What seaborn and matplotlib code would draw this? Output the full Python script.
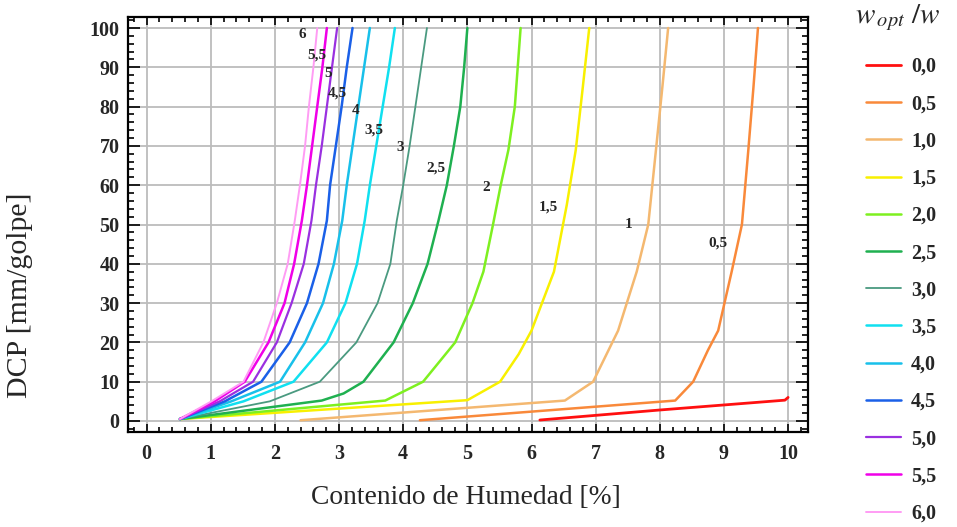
import matplotlib
matplotlib.use('Agg')
import matplotlib.pyplot as plt
import seaborn as sns
from matplotlib.ticker import MultipleLocator

# w_opt / w values and colours
ratios = ['0,0', '0,5', '1,0', '1,5', '2,0', '2,5', '3,0', '3,5', '4,0', '4,5', '5,0', '5,5', '6,0']
colors = ['#ff1010', '#f9893a', '#f4b870', '#f8f000', '#7ef020', '#1fb050', '#4a9a80',
          '#10e0f0', '#18c0ea', '#1a60e8', '#9a30e0', '#f000e8', '#ff9cf4']

# humedad [%] / DCP [mm/golpe]
hum_00 = [6.13, 8.0, 9.95, 10.0]
dcp_00 = [0.25, 2.8, 5.3, 6.0]
hum_05 = [4.26, 8.24, 8.52, 8.75, 8.91, 9.12, 9.28, 9.38, 9.46, 9.53]
dcp_05 = [0.2, 5.2, 10, 18, 23, 38, 50, 69, 85, 100]
hum_10 = [2.40, 6.52, 6.96, 7.35, 7.64, 7.82, 7.94, 8.04, 8.13]
dcp_10 = [0.2, 5.2, 10, 23, 38, 50, 69, 85, 100]
hum_15 = [0.52, 5.00, 5.51, 5.80, 6.00, 6.35, 6.55, 6.69, 6.80, 6.90]
dcp_15 = [0.5, 5.3, 10, 17, 23, 38, 55, 69, 85, 100]
hum_20 = [0.52, 3.72, 4.31, 4.81, 5.08, 5.25, 5.40, 5.52, 5.64, 5.74, 5.83]
dcp_20 = [0.5, 5.2, 10, 20, 30, 38, 50, 60, 69, 80, 100]
hum_25 = [0.52, 2.73, 3.07, 3.38, 3.85, 4.15, 4.38, 4.55, 4.68, 4.79, 4.89, 4.95, 5.00]
dcp_25 = [0.5, 5.2, 7, 10, 20, 30, 40, 51, 60, 70, 80, 90, 100]
dcp_fan = [0.5, 5, 10, 20, 30, 40, 51, 60, 70, 80, 90, 100]
hum_30 = [0.52, 1.92, 2.70, 3.27, 3.60, 3.80, 3.90, 4.00, 4.10, 4.19, 4.28, 4.37]
hum_35 = [0.52, 1.51, 2.29, 2.81, 3.10, 3.28, 3.40, 3.48, 3.58, 3.68, 3.78, 3.87]
hum_40 = [0.52, 1.32, 2.08, 2.47, 2.75, 2.92, 3.05, 3.12, 3.21, 3.30, 3.39, 3.48]
hum_45 = [0.52, 1.22, 1.79, 2.23, 2.50, 2.68, 2.81, 2.86, 2.95, 3.04, 3.12, 3.21]
hum_50 = [0.52, 1.14, 1.66, 2.03, 2.26, 2.45, 2.57, 2.64, 2.73, 2.81, 2.89, 2.97]
hum_55 = [0.52, 1.06, 1.53, 1.90, 2.15, 2.30, 2.42, 2.50, 2.58, 2.66, 2.74, 2.81]
hum_60 = [0.52, 1.01, 1.51, 1.82, 2.03, 2.20, 2.31, 2.39, 2.47, 2.53, 2.60, 2.66]

# labels written next to the curves
lab_text = ['6', '5,5', '5', '4,5', '4', '3,5', '3', '2,5', '2', '1,5', '1', '0,5']
lab_x = [2.43, 2.65, 2.83, 2.98, 3.26, 3.54, 3.95, 4.51, 5.29, 6.26, 7.52, 8.91]
lab_y = [98.3, 93.1, 88.5, 83.5, 79.1, 74.0, 69.5, 64.4, 59.5, 54.5, 49.9, 45.3]

curves = [(hum_00, dcp_00), (hum_05, dcp_05), (hum_10, dcp_10), (hum_15, dcp_15),
          (hum_20, dcp_20), (hum_25, dcp_25), (hum_30, dcp_fan), (hum_35, dcp_fan),
          (hum_40, dcp_fan), (hum_45, dcp_fan), (hum_50, dcp_fan), (hum_55, dcp_fan),
          (hum_60, dcp_fan)]
widths = [2.0, 1.8, 1.8, 1.8, 1.8, 1.8, 1.3, 1.8, 1.8, 1.8, 1.6, 1.8, 1.4]

sns.set_style('ticks')
plt.rcParams['font.family'] = ['Liberation Serif', 'DejaVu Serif']
plt.rcParams['mathtext.fontset'] = 'stix'

fig = plt.figure(figsize=(9.57, 5.27), dpi=100)
ax = fig.add_axes([128/957, 1-432/527, 680/957, 415/527])

for (h, d), c, lw in zip(curves, colors, widths):
    sns.lineplot(x=h, y=d, ax=ax, color=c, lw=lw, sort=False, estimator=None)

for t, x, y in zip(lab_text, lab_x, lab_y):
    ax.text(x, y, t, fontsize=11, fontweight='bold', ha='center', va='center')

ax.set_xlim(-0.29, 10.31)
ax.set_ylim(-2.8, 102.8)
ax.xaxis.set_major_locator(MultipleLocator(1))
ax.xaxis.set_minor_locator(MultipleLocator(0.2))
ax.yaxis.set_major_locator(MultipleLocator(10))
ax.yaxis.set_minor_locator(MultipleLocator(2))
ax.grid(True, which='major', color='#bcbcbc', lw=1.3)
ax.set_axisbelow(True)
for s in ax.spines.values():
    s.set_linewidth(1.6)
    s.set_color('black')
ax.tick_params(which='both', direction='in', top=True, right=True, width=1.2, color='black')
ax.tick_params(axis='x', which='major', length=6, pad=8.5)
ax.tick_params(axis='x', which='minor', length=3.3)
ax.tick_params(axis='y', which='major', length=8.5, pad=6)
ax.tick_params(axis='y', which='minor', length=4.3)
for lab in ax.get_xticklabels() + ax.get_yticklabels():
    lab.set_fontweight('bold')
    lab.set_fontsize(14.5)

ax.set_xlabel('Contenido de Humedad [%]', fontsize=19.8)
ax.set_ylabel('DCP [mm/golpe]', fontsize=21.5)
ax.xaxis.set_label_coords(0.497, -0.128)
ax.yaxis.set_label_coords(-0.140, 0.330)

fig.text(855/957, 1-18/527, r'$w_{\,opt}\ /w$', fontsize=21, ha='left', va='center')
fig.legend(ax.lines[:13], ratios, loc='upper left', bbox_to_anchor=(866/957, 1-57/527),
           frameon=False, prop={'weight': 'bold', 'size': 14.5}, handlelength=1.74,
           handletextpad=0.5, labelspacing=0.855, borderpad=0, borderaxespad=0)

fig.savefig('out.png', dpi=100)
